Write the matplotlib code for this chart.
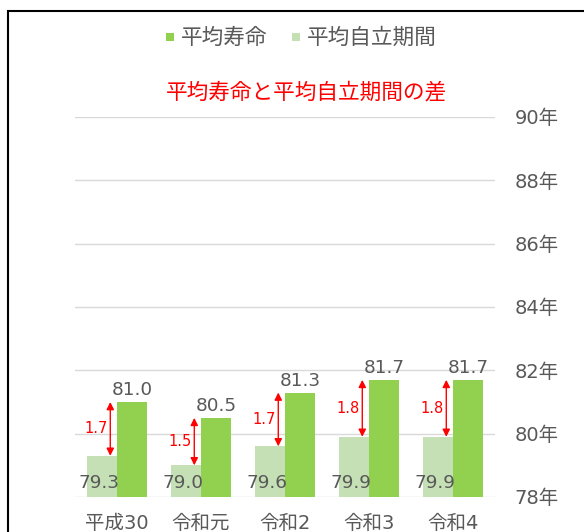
import matplotlib
matplotlib.use("Agg")
import matplotlib.pyplot as plt
from matplotlib.patches import Rectangle
from matplotlib.lines import Line2D
import numpy as np

plt.rcParams['font.family'] = ['DejaVu Sans', 'Noto Sans CJK JP']

categories = ['平成30', '令和元', '令和2', '令和3', '令和4']
life_expectancy = [81.0, 80.5, 81.3, 81.7, 81.7]
independent = [79.3, 79.0, 79.6, 79.9, 79.9]
diffs = [1.7, 1.5, 1.7, 1.8, 1.8]
yticks = [78, 80, 82, 84, 86, 88, 90]

dark = '#92D050'
light = '#C5E0B4'
txt = '#595959'

fig = plt.figure(figsize=(5.84, 5.32), dpi=100)
ax = fig.add_axes([75/584, 1-497/532, 420/584, (497-117)/532])

x = np.arange(len(categories))
w = 0.36
ax.bar(x - w/2, [v - 78 for v in independent], w, bottom=78, color=light, zorder=2)
ax.bar(x + w/2, [v - 78 for v in life_expectancy], w, bottom=78, color=dark, zorder=2)

ax.set_ylim(78, 90)
ax.set_xlim(-0.5, len(categories) - 0.5)
ax.set_yticks(yticks)
ax.set_yticklabels([f'{t}年' for t in yticks], fontsize=14, color=txt)
ax.yaxis.tick_right()
ax.tick_params(axis='y', length=0, pad=14)
ax.set_xticks(x)
ax.set_xticklabels(categories, fontsize=14, color=txt)
ax.tick_params(axis='x', length=0, pad=12)
ax.grid(axis='y', color='#D9D9D9', linewidth=1, zorder=0)
for s in ax.spines.values():
    s.set_visible(False)
ax.set_axisbelow(True)

for i in range(len(categories)):
    ax.text(x[i] + w/2, life_expectancy[i] + 0.22, f'{life_expectancy[i]:.1f}',
            ha='center', va='baseline', fontsize=13.3, color=txt, zorder=4)
    ax.text(x[i] - w/2 - 0.03, 78.28, f'{independent[i]:.1f}',
            ha='center', va='baseline', fontsize=13.3, color=txt, zorder=4)
    ax.annotate('', xy=(x[i] - 0.08, independent[i]), xytext=(x[i] - 0.08, life_expectancy[i]),
                arrowprops=dict(arrowstyle='<|-|>', color='red', lw=1.0,
                                mutation_scale=11, shrinkA=0, shrinkB=0), zorder=5)
    ax.text(x[i] - 0.25, (independent[i] + life_expectancy[i]) / 2, f'{diffs[i]:.1f}',
            ha='center', va='center', fontsize=10.5, color='red', zorder=5)

fig.text(306/584, 1 - 92/532, '平均寿命と平均自立期間の差', ha='center', va='center',
         fontsize=15.6, color='red')

handles = [Line2D([], [], marker='s', linestyle='none', markersize=5.2, color=dark, markeredgewidth=0),
           Line2D([], [], marker='s', linestyle='none', markersize=5.2, color=light, markeredgewidth=0)]
fig.legend(handles, ['平均寿命', '平均自立期間'], loc='center', bbox_to_anchor=(301/584, 1 - 38/532),
           ncol=2, frameon=False, fontsize=15.6, labelcolor=txt, handlelength=0.4,
           handletextpad=0.3, columnspacing=1.15)

fig.patches.append(Rectangle((8/584, -0.1), 1.2, 1 - 11/532 + 0.1, transform=fig.transFigure,
                             fill=False, edgecolor='black', linewidth=1.5))

fig.savefig('out.png', dpi=100)
